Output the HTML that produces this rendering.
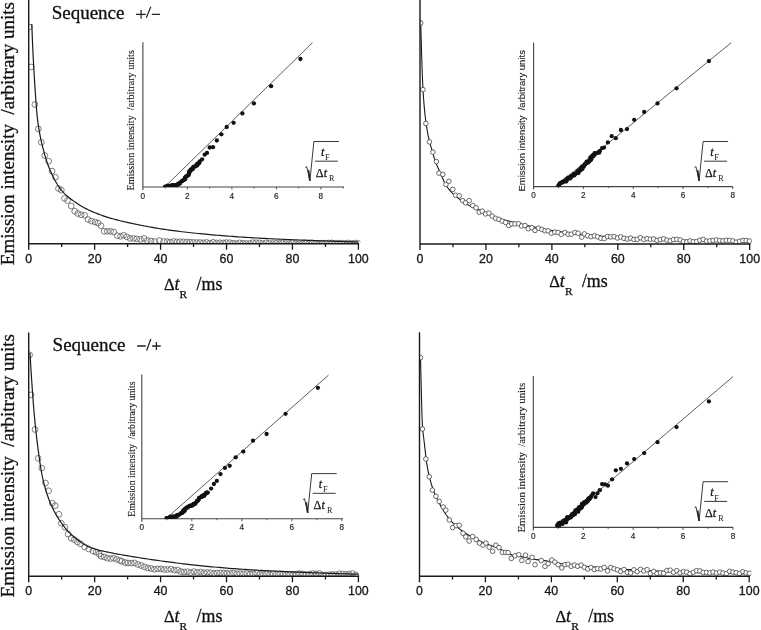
<!DOCTYPE html><html><head><meta charset="utf-8"><style>
html,body{margin:0;padding:0;background:#fff;width:761px;height:630px;overflow:hidden}
svg{display:block;filter:blur(0.35px)}
text{fill:#111;white-space:pre}
.yl,.sq,.xl,.tl{stroke:#111;stroke-width:0.3px}
.tl{font-family:"Liberation Sans",sans-serif;font-size:12.4px;fill:#1a1a1a}
.it{font-family:"Liberation Sans",sans-serif;font-size:8.2px;fill:#222;stroke:#222;stroke-width:0.15px}
.yl{font-family:"Liberation Serif",serif;font-size:18.8px}
.ilserif{font-family:"Liberation Serif",serif;font-size:9.6px;fill:#222;stroke:#222;stroke-width:0.12px}
.ilsans{font-family:"Liberation Sans",sans-serif;font-size:8.6px;fill:#222;stroke:#222;stroke-width:0.12px}
.sq{font-family:"Liberation Serif",serif;font-size:19.0px}
.xl{font-family:"Liberation Serif",serif;font-size:17.9px}
.xs{font-family:"Liberation Serif",serif;font-size:11.4px;stroke:#111;stroke-width:0.25px}
.fm{font-family:"Liberation Serif",serif;font-size:12.2px;stroke:#111;stroke-width:0.25px}
.fs{font-family:"Liberation Serif",serif;font-size:8.2px}
</style></head><body>
<svg width="761" height="630" viewBox="0 0 761 630">
<rect width="761" height="630" fill="#fff"/>
<clipPath id="ctl"><rect x="28.7" y="-1" width="331.7" height="244.8"/></clipPath>
<g clip-path="url(#ctl)" fill="none" stroke="#555" stroke-width="0.75">
<circle cx="29.3" cy="27" r="2.9"/>
<circle cx="31.2" cy="67" r="2.9"/>
<circle cx="34.9" cy="104.5" r="2.9"/>
<circle cx="38.3" cy="128.9" r="2.9"/>
<circle cx="41.3" cy="142.3" r="2.9"/>
<circle cx="44.8" cy="155.5" r="2.9"/>
<circle cx="48.6" cy="161.2" r="2.9"/>
<circle cx="52.1" cy="171.1" r="2.9"/>
<circle cx="55.4" cy="177.3" r="2.9"/>
<circle cx="58.5" cy="188.5" r="2.9"/>
<circle cx="61.3" cy="190.1" r="2.9"/>
<circle cx="64.5" cy="198.4" r="2.9"/>
<circle cx="67.5" cy="200.5" r="2.9"/>
<circle cx="71.2" cy="206" r="2.9"/>
<circle cx="74.7" cy="211.2" r="2.9"/>
<circle cx="77.8" cy="213.5" r="2.9"/>
<circle cx="81.1" cy="214.8" r="2.9"/>
<circle cx="84.6" cy="215.3" r="2.9"/>
<circle cx="88.1" cy="219.5" r="2.9"/>
<circle cx="91.4" cy="221" r="2.9"/>
<circle cx="95" cy="222" r="2.9"/>
<circle cx="98" cy="223.1" r="2.9"/>
<circle cx="101" cy="225.8" r="2.9"/>
<circle cx="104.2" cy="231.3" r="2.9"/>
<circle cx="107.3" cy="231.3" r="2.9"/>
<circle cx="110.5" cy="231.3" r="2.9"/>
<circle cx="113.7" cy="232" r="2.9"/>
<circle cx="117.3" cy="235.7" r="2.9"/>
<circle cx="120.5" cy="236.3" r="2.9"/>
<circle cx="123.6" cy="235.2" r="2.9"/>
<circle cx="126.8" cy="236.8" r="2.9"/>
<circle cx="130" cy="238.4" r="2.9"/>
<circle cx="133.6" cy="238.4" r="2.9"/>
<circle cx="136.8" cy="238.9" r="2.9"/>
<circle cx="140.5" cy="239.4" r="2.9"/>
<circle cx="144.1" cy="238.4" r="2.9"/>
<circle cx="147.3" cy="240.5" r="2.9"/>
<circle cx="151" cy="241" r="2.9"/>
<circle cx="154.7" cy="241.5" r="2.9"/>
<circle cx="159.4" cy="240.5" r="2.9"/>
<circle cx="163.6" cy="241.5" r="2.9"/>
<circle cx="167" cy="241.66" r="2.9"/>
<circle cx="170.3" cy="242.07" r="2.9"/>
<circle cx="173.6" cy="241.45" r="2.9"/>
<circle cx="176.9" cy="241.86" r="2.9"/>
<circle cx="180.2" cy="241.8" r="2.9"/>
<circle cx="183.5" cy="241.84" r="2.9"/>
<circle cx="186.8" cy="242.02" r="2.9"/>
<circle cx="190.1" cy="242.26" r="2.9"/>
<circle cx="193.4" cy="242.38" r="2.9"/>
<circle cx="196.7" cy="242.58" r="2.9"/>
<circle cx="200" cy="242.52" r="2.9"/>
<circle cx="203.3" cy="242.83" r="2.9"/>
<circle cx="206.6" cy="242.4" r="2.9"/>
<circle cx="209.9" cy="243.12" r="2.9"/>
<circle cx="213.2" cy="242.32" r="2.9"/>
<circle cx="216.5" cy="243" r="2.9"/>
<circle cx="219.8" cy="242.79" r="2.9"/>
<circle cx="223.1" cy="242.97" r="2.9"/>
<circle cx="226.4" cy="242.59" r="2.9"/>
<circle cx="229.7" cy="242.68" r="2.9"/>
<circle cx="233" cy="243.32" r="2.9"/>
<circle cx="236.3" cy="243.52" r="2.9"/>
<circle cx="239.6" cy="242.89" r="2.9"/>
<circle cx="242.9" cy="243.3" r="2.9"/>
<circle cx="246.2" cy="243.5" r="2.9"/>
<circle cx="249.5" cy="243.54" r="2.9"/>
<circle cx="252.8" cy="242.75" r="2.9"/>
<circle cx="256.1" cy="242.72" r="2.9"/>
<circle cx="259.4" cy="242.87" r="2.9"/>
<circle cx="262.7" cy="243.59" r="2.9"/>
<circle cx="266" cy="242.82" r="2.9"/>
<circle cx="269.3" cy="243.15" r="2.9"/>
<circle cx="272.6" cy="243.7" r="2.9"/>
<circle cx="275.9" cy="243.29" r="2.9"/>
<circle cx="279.2" cy="243.46" r="2.9"/>
<circle cx="282.5" cy="243.09" r="2.9"/>
<circle cx="285.8" cy="243.47" r="2.9"/>
<circle cx="289.1" cy="243.63" r="2.9"/>
<circle cx="292.4" cy="242.82" r="2.9"/>
<circle cx="295.7" cy="243.56" r="2.9"/>
<circle cx="299" cy="243.81" r="2.9"/>
<circle cx="302.3" cy="243.57" r="2.9"/>
<circle cx="305.6" cy="243.11" r="2.9"/>
<circle cx="308.9" cy="243.63" r="2.9"/>
<circle cx="312.2" cy="242.95" r="2.9"/>
<circle cx="315.5" cy="243.3" r="2.9"/>
<circle cx="318.8" cy="243.77" r="2.9"/>
<circle cx="322.1" cy="243.16" r="2.9"/>
<circle cx="325.4" cy="243.16" r="2.9"/>
<circle cx="328.7" cy="243.01" r="2.9"/>
<circle cx="332" cy="242.9" r="2.9"/>
<circle cx="335.3" cy="243.56" r="2.9"/>
<circle cx="338.6" cy="243.1" r="2.9"/>
<circle cx="341.9" cy="243.16" r="2.9"/>
<circle cx="345.2" cy="243.39" r="2.9"/>
<circle cx="348.5" cy="242.95" r="2.9"/>
<circle cx="351.8" cy="243.47" r="2.9"/>
<circle cx="355.1" cy="243.05" r="2.9"/>
<circle cx="358.4" cy="243.49" r="2.9"/>
</g>
<path d="M31.8,24 L31.81,24.23 L31.83,24.92 L31.87,26.05 L31.93,27.64 L32.01,29.65 L32.1,32.08 L32.2,34.89 L32.33,38.04 L32.47,41.48 L32.62,45.13 L32.8,48.93 L32.99,52.92 L33.19,57.09 L33.42,61.4 L33.66,65.8 L33.91,70.27 L34.18,74.75 L34.47,79.34 L34.78,84.17 L35.1,89.19 L35.44,94.33 L35.79,99.51 L36.16,104.62 L36.55,109.54 L36.96,114.12 L37.38,118.18 L37.81,121.6 L38.27,124.82 L38.74,127.91 L39.22,130.87 L39.73,133.71 L40.25,136.42 L40.78,139.02 L41.34,141.52 L41.91,143.93 L42.49,146.28 L43.09,148.6 L43.71,150.93 L44.35,153.29 L45,155.61 L45.67,157.89 L46.35,160.1 L47.05,162.25 L47.77,164.33 L48.51,166.33 L49.26,168.24 L50.02,170.05 L50.81,171.82 L51.61,173.57 L52.42,175.3 L53.26,177 L54.11,178.68 L54.97,180.33 L55.86,181.93 L56.76,183.49 L57.67,184.99 L58.6,186.43 L59.55,187.81 L60.52,189.11 L61.5,190.32 L62.5,191.46 L63.51,192.56 L64.54,193.62 L65.59,194.63 L66.66,195.61 L67.74,196.55 L68.83,197.46 L69.95,198.34 L71.08,199.2 L72.22,200.04 L73.39,200.88 L74.57,201.7 L75.76,202.52 L76.98,203.34 L78.21,204.14 L79.45,204.92 L80.71,205.69 L81.99,206.45 L83.29,207.19 L84.6,207.91 L85.93,208.62 L87.27,209.3 L88.63,209.96 L90.01,210.6 L91.4,211.23 L92.82,211.84 L94.24,212.44 L95.69,213.03 L97.15,213.61 L98.62,214.18 L100.12,214.73 L101.63,215.28 L103.15,215.81 L104.7,216.33 L106.25,216.84 L107.83,217.34 L109.42,217.83 L111.03,218.3 L112.66,218.77 L114.3,219.23 L115.96,219.68 L117.63,220.12 L119.32,220.54 L121.03,220.97 L122.75,221.38 L124.49,221.78 L126.25,222.18 L128.03,222.57 L129.82,222.96 L131.62,223.34 L133.45,223.73 L135.29,224.11 L137.14,224.49 L139.01,224.87 L140.9,225.25 L142.81,225.62 L144.73,226 L146.67,226.36 L148.63,226.73 L150.6,227.09 L152.59,227.45 L154.59,227.8 L156.61,228.15 L158.65,228.49 L160.7,228.82 L162.77,229.15 L164.86,229.46 L166.96,229.77 L169.08,230.07 L171.22,230.37 L173.37,230.65 L175.54,230.93 L177.73,231.21 L179.93,231.48 L182.15,231.75 L184.39,232.01 L186.64,232.27 L188.91,232.52 L191.19,232.77 L193.5,233.02 L195.81,233.26 L198.15,233.49 L200.5,233.72 L202.87,233.95 L205.25,234.17 L207.65,234.39 L210.07,234.61 L212.5,234.82 L214.95,235.03 L217.42,235.24 L219.9,235.44 L222.4,235.64 L224.92,235.84 L227.45,236.04 L230,236.24 L232.57,236.43 L235.15,236.62 L237.75,236.8 L240.36,236.99 L242.99,237.16 L245.64,237.34 L248.31,237.51 L250.99,237.68 L253.69,237.84 L256.4,238 L259.13,238.15 L261.88,238.3 L264.64,238.45 L267.42,238.59 L270.22,238.73 L273.03,238.86 L275.86,239 L278.71,239.13 L281.57,239.26 L284.45,239.38 L287.35,239.51 L290.26,239.63 L293.19,239.75 L296.13,239.87 L299.09,239.98 L302.07,240.1 L305.07,240.21 L308.08,240.33 L311.1,240.44 L314.15,240.55 L317.21,240.67 L320.29,240.78 L323.38,240.89 L326.49,241 L329.62,241.11 L332.76,241.21 L335.92,241.32 L339.1,241.42 L342.29,241.52 L345.5,241.62 L348.72,241.72 L351.97,241.81 L355.22,241.91 L358.5,242" fill="none" stroke="#1a1a1a" stroke-width="1.2" clip-path="url(#ctl)"/>
<path d="M28.7,-1 V249.8 M28,243.8 H359.1" stroke="#1a1a1a" stroke-width="1.4" fill="none"/>
<path d="M61.67,243.8 v3.2 M94.64,243.8 v6 M127.61,243.8 v3.2 M160.58,243.8 v6 M193.55,243.8 v3.2 M226.52,243.8 v6 M259.49,243.8 v3.2 M292.46,243.8 v6 M325.43,243.8 v3.2 M358.4,243.8 v6" stroke="#1a1a1a" stroke-width="1.3" fill="none"/>
<text x="28.7" y="262.9" class="tl" text-anchor="middle">0</text>
<text x="94.64" y="262.9" class="tl" text-anchor="middle">20</text>
<text x="160.58" y="262.9" class="tl" text-anchor="middle">40</text>
<text x="226.52" y="262.9" class="tl" text-anchor="middle">60</text>
<text x="292.46" y="262.9" class="tl" text-anchor="middle">80</text>
<text x="358.4" y="262.9" class="tl" text-anchor="middle">100</text>
<clipPath id="cbl"><rect x="28.7" y="332.4" width="331.7" height="243.8"/></clipPath>
<g clip-path="url(#cbl)" fill="none" stroke="#555" stroke-width="0.75">
<circle cx="29.6" cy="354.9" r="2.9"/>
<circle cx="31.1" cy="394.9" r="2.9"/>
<circle cx="35" cy="429.5" r="2.9"/>
<circle cx="38.2" cy="458.4" r="2.9"/>
<circle cx="41.8" cy="468.1" r="2.9"/>
<circle cx="45.5" cy="483" r="2.9"/>
<circle cx="48.6" cy="490.8" r="2.9"/>
<circle cx="52.3" cy="503.2" r="2.9"/>
<circle cx="55.2" cy="505.7" r="2.9"/>
<circle cx="58.9" cy="514.3" r="2.9"/>
<circle cx="61.3" cy="523.2" r="2.9"/>
<circle cx="65" cy="527.3" r="2.9"/>
<circle cx="68.1" cy="534.1" r="2.9"/>
<circle cx="71.2" cy="538.2" r="2.9"/>
<circle cx="74.3" cy="539.7" r="2.9"/>
<circle cx="77.4" cy="542" r="2.9"/>
<circle cx="80.5" cy="543.8" r="2.9"/>
<circle cx="84.6" cy="546.9" r="2.9"/>
<circle cx="88.8" cy="549" r="2.9"/>
<circle cx="92.9" cy="551" r="2.9"/>
<circle cx="96" cy="552.1" r="2.9"/>
<circle cx="99" cy="554" r="2.9"/>
<circle cx="101.1" cy="556.2" r="2.9"/>
<circle cx="104.2" cy="557" r="2.9"/>
<circle cx="107.3" cy="558.2" r="2.9"/>
<circle cx="110.5" cy="558.6" r="2.9"/>
<circle cx="113.5" cy="558.2" r="2.9"/>
<circle cx="116.6" cy="559.3" r="2.9"/>
<circle cx="119.8" cy="560.5" r="2.9"/>
<circle cx="121.8" cy="561.3" r="2.9"/>
<circle cx="125" cy="562.5" r="2.9"/>
<circle cx="128" cy="563" r="2.9"/>
<circle cx="131.3" cy="563.16" r="2.9"/>
<circle cx="134.6" cy="562.95" r="2.9"/>
<circle cx="137.9" cy="564.47" r="2.9"/>
<circle cx="141.2" cy="565.51" r="2.9"/>
<circle cx="144.5" cy="566.91" r="2.9"/>
<circle cx="147.8" cy="568.02" r="2.9"/>
<circle cx="151.1" cy="568.5" r="2.9"/>
<circle cx="154.4" cy="569.3" r="2.9"/>
<circle cx="157.7" cy="568.86" r="2.9"/>
<circle cx="161" cy="568.86" r="2.9"/>
<circle cx="164.3" cy="569.5" r="2.9"/>
<circle cx="167.6" cy="569.46" r="2.9"/>
<circle cx="170.9" cy="569.09" r="2.9"/>
<circle cx="174.2" cy="570.12" r="2.9"/>
<circle cx="177.5" cy="570.07" r="2.9"/>
<circle cx="180.8" cy="571.49" r="2.9"/>
<circle cx="184.1" cy="571.96" r="2.9"/>
<circle cx="187.4" cy="571.7" r="2.9"/>
<circle cx="190.7" cy="572.55" r="2.9"/>
<circle cx="194" cy="571.59" r="2.9"/>
<circle cx="197.3" cy="572.51" r="2.9"/>
<circle cx="200.6" cy="572.02" r="2.9"/>
<circle cx="203.9" cy="572.81" r="2.9"/>
<circle cx="207.2" cy="572.48" r="2.9"/>
<circle cx="210.5" cy="572.69" r="2.9"/>
<circle cx="213.8" cy="573.54" r="2.9"/>
<circle cx="217.1" cy="572.99" r="2.9"/>
<circle cx="220.4" cy="572.84" r="2.9"/>
<circle cx="223.7" cy="573.05" r="2.9"/>
<circle cx="227" cy="573.28" r="2.9"/>
<circle cx="230.3" cy="573.48" r="2.9"/>
<circle cx="233.6" cy="573.08" r="2.9"/>
<circle cx="236.9" cy="573.8" r="2.9"/>
<circle cx="240.2" cy="573.57" r="2.9"/>
<circle cx="243.5" cy="573.64" r="2.9"/>
<circle cx="246.8" cy="573.48" r="2.9"/>
<circle cx="250.1" cy="574.17" r="2.9"/>
<circle cx="253.4" cy="573.87" r="2.9"/>
<circle cx="256.7" cy="573.24" r="2.9"/>
<circle cx="260" cy="574.14" r="2.9"/>
<circle cx="263.3" cy="574.6" r="2.9"/>
<circle cx="266.6" cy="573.9" r="2.9"/>
<circle cx="269.9" cy="574.57" r="2.9"/>
<circle cx="273.2" cy="573.73" r="2.9"/>
<circle cx="276.5" cy="574.13" r="2.9"/>
<circle cx="279.8" cy="573.94" r="2.9"/>
<circle cx="283.1" cy="573.99" r="2.9"/>
<circle cx="286.4" cy="574.56" r="2.9"/>
<circle cx="289.7" cy="574.2" r="2.9"/>
<circle cx="293" cy="574.89" r="2.9"/>
<circle cx="296.3" cy="574.26" r="2.9"/>
<circle cx="299.6" cy="573.53" r="2.9"/>
<circle cx="302.9" cy="573.99" r="2.9"/>
<circle cx="306.2" cy="574.78" r="2.9"/>
<circle cx="309.5" cy="574.08" r="2.9"/>
<circle cx="312.8" cy="573.48" r="2.9"/>
<circle cx="316.1" cy="573.84" r="2.9"/>
<circle cx="319.4" cy="573.56" r="2.9"/>
<circle cx="322.7" cy="575.05" r="2.9"/>
<circle cx="326" cy="575.02" r="2.9"/>
<circle cx="329.3" cy="574.75" r="2.9"/>
<circle cx="332.6" cy="574.44" r="2.9"/>
<circle cx="335.9" cy="574.71" r="2.9"/>
<circle cx="339.2" cy="573.76" r="2.9"/>
<circle cx="342.5" cy="573.96" r="2.9"/>
<circle cx="345.8" cy="574.33" r="2.9"/>
<circle cx="349.1" cy="574.07" r="2.9"/>
<circle cx="352.4" cy="573.57" r="2.9"/>
<circle cx="355.7" cy="575.07" r="2.9"/>
</g>
<path d="M30,353 L30.01,353.14 L30.03,353.58 L30.07,354.29 L30.13,355.3 L30.21,356.58 L30.3,358.14 L30.41,359.96 L30.53,362.05 L30.67,364.4 L30.83,366.98 L31,369.8 L31.19,372.84 L31.4,376.07 L31.63,379.49 L31.87,383.06 L32.12,386.78 L32.4,390.68 L32.69,394.75 L32.99,398.96 L33.32,403.24 L33.66,407.55 L34.01,411.81 L34.39,415.95 L34.78,420.04 L35.18,424.14 L35.61,428.23 L36.05,432.3 L36.5,436.35 L36.98,440.36 L37.47,444.34 L37.97,448.28 L38.49,452.19 L39.03,456.16 L39.59,460.13 L40.16,464.06 L40.75,467.86 L41.36,471.47 L41.98,474.8 L42.62,477.76 L43.27,480.57 L43.94,483.29 L44.63,485.93 L45.34,488.48 L46.06,490.95 L46.8,493.32 L47.55,495.6 L48.32,497.8 L49.11,499.92 L49.92,501.96 L50.74,503.92 L51.58,505.83 L52.43,507.68 L53.3,509.47 L54.19,511.21 L55.09,512.9 L56.01,514.54 L56.95,516.13 L57.91,517.68 L58.88,519.2 L59.86,520.69 L60.87,522.15 L61.89,523.6 L62.92,525.04 L63.98,526.45 L65.05,527.83 L66.13,529.18 L67.24,530.48 L68.36,531.72 L69.49,532.9 L70.65,534.01 L71.82,535.03 L73,536.05 L74.21,537.05 L75.42,538.05 L76.66,539.02 L77.91,539.98 L79.18,540.92 L80.47,541.84 L81.77,542.73 L83.09,543.58 L84.43,544.4 L85.78,545.18 L87.15,545.91 L88.53,546.6 L89.93,547.23 L91.35,547.8 L92.79,548.31 L94.24,548.79 L95.71,549.25 L97.19,549.68 L98.69,550.08 L100.21,550.47 L101.75,550.84 L103.3,551.19 L104.86,551.53 L106.45,551.87 L108.05,552.2 L109.67,552.52 L111.3,552.86 L112.95,553.19 L114.62,553.52 L116.3,553.85 L118,554.16 L119.72,554.47 L121.46,554.77 L123.21,555.07 L124.97,555.37 L126.76,555.66 L128.56,555.96 L130.37,556.26 L132.21,556.56 L134.06,556.87 L135.92,557.17 L137.81,557.47 L139.7,557.77 L141.62,558.08 L143.55,558.38 L145.5,558.68 L147.47,558.98 L149.45,559.28 L151.45,559.57 L153.47,559.87 L155.5,560.16 L157.55,560.44 L159.61,560.73 L161.7,561.01 L163.79,561.29 L165.91,561.58 L168.04,561.86 L170.19,562.14 L172.35,562.42 L174.54,562.7 L176.73,562.98 L178.95,563.25 L181.18,563.52 L183.43,563.79 L185.69,564.06 L187.97,564.32 L190.27,564.59 L192.59,564.84 L194.92,565.09 L197.27,565.34 L199.63,565.58 L202.01,565.83 L204.41,566.07 L206.82,566.3 L209.25,566.54 L211.7,566.78 L214.16,567.01 L216.64,567.24 L219.14,567.46 L221.65,567.69 L224.18,567.9 L226.73,568.12 L229.29,568.33 L231.87,568.53 L234.47,568.72 L237.08,568.91 L239.71,569.09 L242.36,569.27 L245.02,569.44 L247.7,569.61 L250.4,569.78 L253.11,569.94 L255.84,570.1 L258.58,570.26 L261.35,570.41 L264.12,570.56 L266.92,570.71 L269.73,570.85 L272.56,571 L275.41,571.14 L278.27,571.27 L281.15,571.41 L284.04,571.54 L286.95,571.67 L289.88,571.79 L292.83,571.92 L295.79,572.05 L298.77,572.17 L301.76,572.29 L304.77,572.42 L307.8,572.54 L310.84,572.66 L313.9,572.78 L316.98,572.89 L320.08,573.01 L323.19,573.12 L326.31,573.23 L329.46,573.34 L332.62,573.45 L335.8,573.55 L338.99,573.66 L342.2,573.75 L345.43,573.85 L348.67,573.94 L351.93,574.03 L355.21,574.12 L358.5,574.2" fill="none" stroke="#1a1a1a" stroke-width="1.2" clip-path="url(#cbl)"/>
<path d="M28.7,332.4 V582.2 M28,576.2 H359.1" stroke="#1a1a1a" stroke-width="1.4" fill="none"/>
<path d="M61.67,576.2 v3.2 M94.64,576.2 v6 M127.61,576.2 v3.2 M160.58,576.2 v6 M193.55,576.2 v3.2 M226.52,576.2 v6 M259.49,576.2 v3.2 M292.46,576.2 v6 M325.43,576.2 v3.2 M358.4,576.2 v6" stroke="#1a1a1a" stroke-width="1.3" fill="none"/>
<text x="28.7" y="595.3" class="tl" text-anchor="middle">0</text>
<text x="94.64" y="595.3" class="tl" text-anchor="middle">20</text>
<text x="160.58" y="595.3" class="tl" text-anchor="middle">40</text>
<text x="226.52" y="595.3" class="tl" text-anchor="middle">60</text>
<text x="292.46" y="595.3" class="tl" text-anchor="middle">80</text>
<text x="358.4" y="595.3" class="tl" text-anchor="middle">100</text>
<clipPath id="ctr"><rect x="420" y="-1" width="331.7" height="245"/></clipPath>
<path d="M420.7,20 L420.71,20.34 L420.73,21.37 L420.77,23.08 L420.83,25.45 L420.91,28.46 L421,32.08 L421.11,36.24 L421.23,40.86 L421.37,45.82 L421.53,50.95 L421.7,56.43 L421.9,62.31 L422.1,68.48 L422.33,74.74 L422.57,80.84 L422.83,86.45 L423.1,91.21 L423.39,95.66 L423.7,99.98 L424.02,104.13 L424.36,108.1 L424.72,111.86 L425.09,115.42 L425.48,118.76 L425.89,121.92 L426.31,124.92 L426.75,127.78 L427.21,130.49 L427.68,133.06 L428.17,135.52 L428.68,137.87 L429.2,140.16 L429.74,142.38 L430.3,144.45 L430.87,146.4 L431.46,148.3 L432.07,150.22 L432.69,152.27 L433.33,154.56 L433.98,157.04 L434.66,159.44 L435.35,161.47 L436.05,163.31 L436.77,165.03 L437.51,166.67 L438.27,168.28 L439.04,169.91 L439.83,171.62 L440.64,173.47 L441.46,175.45 L442.3,177.51 L443.15,179.57 L444.02,181.57 L444.91,183.43 L445.82,185.06 L446.74,186.43 L447.68,187.73 L448.63,188.96 L449.6,190.13 L450.59,191.24 L451.59,192.31 L452.62,193.33 L453.65,194.31 L454.71,195.27 L455.78,196.2 L456.87,197.12 L457.97,198.04 L459.09,198.93 L460.23,199.8 L461.38,200.65 L462.55,201.47 L463.74,202.27 L464.95,203.04 L466.17,203.78 L467.4,204.5 L468.66,205.19 L469.93,205.85 L471.21,206.48 L472.52,207.09 L473.84,207.67 L475.17,208.24 L476.53,208.81 L477.9,209.38 L479.28,209.96 L480.69,210.56 L482.11,211.18 L483.54,211.84 L485,212.51 L486.47,213.21 L487.95,213.91 L489.46,214.62 L490.98,215.31 L492.51,215.99 L494.06,216.64 L495.63,217.25 L497.22,217.81 L498.82,218.32 L500.44,218.81 L502.08,219.28 L503.73,219.74 L505.4,220.17 L507.08,220.6 L508.78,221.02 L510.5,221.43 L512.24,221.84 L513.99,222.26 L515.76,222.68 L517.54,223.11 L519.35,223.55 L521.16,223.99 L523,224.44 L524.85,224.88 L526.72,225.33 L528.6,225.78 L530.5,226.22 L532.42,226.67 L534.36,227.1 L536.31,227.54 L538.28,227.96 L540.26,228.38 L542.26,228.78 L544.28,229.17 L546.31,229.55 L548.36,229.91 L550.43,230.26 L552.52,230.58 L554.62,230.89 L556.73,231.2 L558.87,231.5 L561.02,231.8 L563.18,232.1 L565.37,232.39 L567.57,232.67 L569.79,232.95 L572.02,233.22 L574.27,233.49 L576.54,233.75 L578.82,234 L581.12,234.25 L583.44,234.49 L585.77,234.73 L588.12,234.96 L590.48,235.18 L592.87,235.4 L595.27,235.61 L597.68,235.81 L600.12,236.01 L602.56,236.2 L605.03,236.39 L607.51,236.57 L610.01,236.75 L612.53,236.92 L615.06,237.09 L617.61,237.26 L620.18,237.42 L622.76,237.58 L625.36,237.73 L627.97,237.88 L630.6,238.03 L633.25,238.18 L635.92,238.32 L638.6,238.46 L641.3,238.59 L644.01,238.72 L646.74,238.85 L649.49,238.98 L652.26,239.1 L655.04,239.22 L657.84,239.34 L660.65,239.46 L663.48,239.58 L666.33,239.69 L669.2,239.8 L672.08,239.91 L674.97,240.02 L677.89,240.12 L680.82,240.22 L683.77,240.32 L686.73,240.42 L689.71,240.51 L692.71,240.6 L695.72,240.69 L698.75,240.77 L701.8,240.85 L704.86,240.92 L707.94,241 L711.04,241.08 L714.15,241.15 L717.29,241.22 L720.43,241.29 L723.6,241.36 L726.78,241.43 L729.97,241.49 L733.18,241.55 L736.41,241.61 L739.66,241.66 L742.92,241.71 L746.2,241.76 L749.5,241.8" fill="none" stroke="#1a1a1a" stroke-width="1.1" clip-path="url(#ctr)"/>
<g clip-path="url(#ctr)" fill="#fff" stroke="#444" stroke-width="0.8">
<circle cx="420.7" cy="23" r="2.3"/>
<circle cx="423" cy="89.6" r="2.3"/>
<circle cx="425.9" cy="123.5" r="2.3"/>
<circle cx="429.4" cy="141.9" r="2.3"/>
<circle cx="432.9" cy="152.1" r="2.3"/>
<circle cx="436.4" cy="161.6" r="2.3"/>
<circle cx="439" cy="173.1" r="2.3"/>
<circle cx="442.8" cy="174.4" r="2.3"/>
<circle cx="445.9" cy="184.4" r="2.3"/>
<circle cx="448.9" cy="181.3" r="2.3"/>
<circle cx="452.8" cy="189.4" r="2.3"/>
<circle cx="455.6" cy="195.3" r="2.3"/>
<circle cx="459.2" cy="195.8" r="2.3"/>
<circle cx="462.6" cy="200.6" r="2.3"/>
<circle cx="465.6" cy="202.8" r="2.3"/>
<circle cx="469.2" cy="200.6" r="2.3"/>
<circle cx="472.8" cy="205.6" r="2.3"/>
<circle cx="476.1" cy="207.8" r="2.3"/>
<circle cx="479.2" cy="212.2" r="2.3"/>
<circle cx="482.2" cy="211.1" r="2.3"/>
<circle cx="485.6" cy="213.9" r="2.3"/>
<circle cx="488.9" cy="213.1" r="2.3"/>
<circle cx="492.2" cy="216.1" r="2.3"/>
<circle cx="495.6" cy="218.3" r="2.3"/>
<circle cx="498.9" cy="219.4" r="2.3"/>
<circle cx="502.2" cy="221.1" r="2.3"/>
<circle cx="505.6" cy="222.5" r="2.3"/>
<circle cx="508.7" cy="225.5" r="2.3"/>
<circle cx="511.8" cy="223.9" r="2.3"/>
<circle cx="515" cy="223.9" r="2.3"/>
<circle cx="518.5" cy="223.7" r="2.3"/>
<circle cx="521.6" cy="226" r="2.3"/>
<circle cx="525" cy="225.5" r="2.3"/>
<circle cx="528.3" cy="228.7" r="2.3"/>
<circle cx="531.8" cy="227.6" r="2.3"/>
<circle cx="535" cy="230.4" r="2.3"/>
<circle cx="538.4" cy="228.1" r="2.3"/>
<circle cx="541.8" cy="229.4" r="2.3"/>
<circle cx="545" cy="230.8" r="2.3"/>
<circle cx="548.1" cy="230.8" r="2.3"/>
<circle cx="551.3" cy="233.2" r="2.3"/>
<circle cx="554.9" cy="232.1" r="2.3"/>
<circle cx="558.1" cy="232.5" r="2.3"/>
<circle cx="561.3" cy="234.4" r="2.3"/>
<circle cx="564.9" cy="232.5" r="2.3"/>
<circle cx="568.1" cy="234.2" r="2.3"/>
<circle cx="571.2" cy="234.2" r="2.3"/>
<circle cx="574.9" cy="232.5" r="2.3"/>
<circle cx="578.1" cy="233.2" r="2.3"/>
<circle cx="581.8" cy="237.1" r="2.3"/>
<circle cx="584.4" cy="233.9" r="2.3"/>
<circle cx="587.7" cy="235.71" r="2.3"/>
<circle cx="591" cy="236.65" r="2.3"/>
<circle cx="594.3" cy="235.83" r="2.3"/>
<circle cx="597.6" cy="236.85" r="2.3"/>
<circle cx="600.9" cy="238.29" r="2.3"/>
<circle cx="604.2" cy="238.55" r="2.3"/>
<circle cx="607.5" cy="236.46" r="2.3"/>
<circle cx="610.8" cy="236.91" r="2.3"/>
<circle cx="614.1" cy="236.63" r="2.3"/>
<circle cx="617.4" cy="237.97" r="2.3"/>
<circle cx="620.7" cy="236.9" r="2.3"/>
<circle cx="624" cy="238.33" r="2.3"/>
<circle cx="627.3" cy="239.06" r="2.3"/>
<circle cx="630.6" cy="238.1" r="2.3"/>
<circle cx="633.9" cy="239.43" r="2.3"/>
<circle cx="637.2" cy="239.31" r="2.3"/>
<circle cx="640.5" cy="237.74" r="2.3"/>
<circle cx="643.8" cy="239.47" r="2.3"/>
<circle cx="647.1" cy="238.69" r="2.3"/>
<circle cx="650.4" cy="239.26" r="2.3"/>
<circle cx="653.7" cy="238.97" r="2.3"/>
<circle cx="657" cy="240.3" r="2.3"/>
<circle cx="660.3" cy="239.63" r="2.3"/>
<circle cx="663.6" cy="238.86" r="2.3"/>
<circle cx="666.9" cy="240.11" r="2.3"/>
<circle cx="670.2" cy="240.89" r="2.3"/>
<circle cx="673.5" cy="239.54" r="2.3"/>
<circle cx="676.8" cy="239.36" r="2.3"/>
<circle cx="680.1" cy="239.92" r="2.3"/>
<circle cx="683.4" cy="241.63" r="2.3"/>
<circle cx="686.7" cy="241.81" r="2.3"/>
<circle cx="690" cy="240.96" r="2.3"/>
<circle cx="693.3" cy="241.7" r="2.3"/>
<circle cx="696.6" cy="241.58" r="2.3"/>
<circle cx="699.9" cy="240.23" r="2.3"/>
<circle cx="703.2" cy="239.42" r="2.3"/>
<circle cx="706.5" cy="241.16" r="2.3"/>
<circle cx="709.8" cy="240.92" r="2.3"/>
<circle cx="713.1" cy="240.38" r="2.3"/>
<circle cx="716.4" cy="240.01" r="2.3"/>
<circle cx="719.7" cy="240.6" r="2.3"/>
<circle cx="723" cy="240.83" r="2.3"/>
<circle cx="726.3" cy="240.27" r="2.3"/>
<circle cx="729.6" cy="240.38" r="2.3"/>
<circle cx="732.9" cy="240.91" r="2.3"/>
<circle cx="736.2" cy="242.16" r="2.3"/>
<circle cx="739.5" cy="241.37" r="2.3"/>
<circle cx="742.8" cy="240.49" r="2.3"/>
<circle cx="746.1" cy="240.5" r="2.3"/>
<circle cx="749.4" cy="241.06" r="2.3"/>
</g>
<path d="M420,-1 V250 M419.3,244 H750.4" stroke="#1a1a1a" stroke-width="1.4" fill="none"/>
<path d="M452.97,244 v3.2 M485.94,244 v6 M518.91,244 v3.2 M551.88,244 v6 M584.85,244 v3.2 M617.82,244 v6 M650.79,244 v3.2 M683.76,244 v6 M716.73,244 v3.2 M749.7,244 v6" stroke="#1a1a1a" stroke-width="1.3" fill="none"/>
<text x="420" y="263.1" class="tl" text-anchor="middle">0</text>
<text x="485.94" y="263.1" class="tl" text-anchor="middle">20</text>
<text x="551.88" y="263.1" class="tl" text-anchor="middle">40</text>
<text x="617.82" y="263.1" class="tl" text-anchor="middle">60</text>
<text x="683.76" y="263.1" class="tl" text-anchor="middle">80</text>
<text x="749.7" y="263.1" class="tl" text-anchor="middle">100</text>
<clipPath id="cbr"><rect x="419.5" y="332.3" width="331.7" height="243.9"/></clipPath>
<path d="M420.5,357 L420.51,357.38 L420.53,358.5 L420.57,360.36 L420.63,362.94 L420.71,366.22 L420.8,370.16 L420.91,374.7 L421.03,379.77 L421.17,385.28 L421.33,391.12 L421.51,397.64 L421.7,404.83 L421.9,412.23 L422.13,419.13 L422.37,424.51 L422.63,428.16 L422.9,431.31 L423.19,434.05 L423.5,436.53 L423.82,438.97 L424.16,441.69 L424.52,444.83 L424.89,448.16 L425.29,451.63 L425.69,455.16 L426.12,458.66 L426.56,462.02 L427.01,465.11 L427.49,467.82 L427.98,470.37 L428.48,472.83 L429.01,475.21 L429.55,477.5 L430.1,479.69 L430.68,481.8 L431.27,483.83 L431.87,485.79 L432.5,487.69 L433.14,489.52 L433.79,491.3 L434.47,493.01 L435.16,494.67 L435.86,496.28 L436.58,497.85 L437.32,499.38 L438.08,500.89 L438.85,502.39 L439.64,503.88 L440.45,505.37 L441.27,506.85 L442.11,508.32 L442.96,509.76 L443.84,511.19 L444.73,512.59 L445.63,513.96 L446.55,515.3 L447.49,516.59 L448.45,517.83 L449.42,519.03 L450.41,520.21 L451.41,521.35 L452.44,522.47 L453.47,523.56 L454.53,524.62 L455.6,525.64 L456.69,526.63 L457.79,527.58 L458.92,528.48 L460.05,529.35 L461.21,530.2 L462.38,531.03 L463.57,531.85 L464.77,532.65 L465.99,533.44 L467.23,534.21 L468.49,534.97 L469.76,535.71 L471.05,536.44 L472.35,537.16 L473.67,537.87 L475.01,538.57 L476.36,539.26 L477.73,539.95 L479.12,540.62 L480.52,541.3 L481.95,541.94 L483.38,542.57 L484.84,543.17 L486.31,543.75 L487.79,544.32 L489.3,544.89 L490.82,545.45 L492.35,546.02 L493.91,546.61 L495.48,547.21 L497.07,547.84 L498.67,548.5 L500.29,549.21 L501.93,550 L503.58,550.9 L505.25,551.85 L506.94,552.8 L508.64,553.67 L510.36,554.39 L512.09,554.92 L513.85,555.33 L515.62,555.69 L517.4,556.01 L519.21,556.32 L521.03,556.65 L522.86,557.01 L524.71,557.4 L526.58,557.79 L528.47,558.19 L530.37,558.57 L532.29,558.95 L534.23,559.29 L536.18,559.6 L538.15,559.88 L540.13,560.12 L542.14,560.36 L544.15,560.61 L546.19,560.88 L548.24,561.2 L550.31,561.57 L552.4,561.97 L554.5,562.39 L556.62,562.81 L558.75,563.21 L560.9,563.57 L563.07,563.87 L565.26,564.15 L567.46,564.41 L569.68,564.65 L571.91,564.89 L574.16,565.12 L576.43,565.34 L578.72,565.57 L581.02,565.8 L583.33,566.03 L585.67,566.26 L588.02,566.49 L590.39,566.71 L592.77,566.93 L595.17,567.15 L597.59,567.37 L600.02,567.58 L602.48,567.79 L604.94,567.98 L607.43,568.18 L609.93,568.36 L612.45,568.53 L614.98,568.7 L617.53,568.86 L620.1,569.03 L622.68,569.19 L625.28,569.35 L627.9,569.51 L630.53,569.67 L633.18,569.82 L635.85,569.98 L638.53,570.13 L641.23,570.27 L643.95,570.42 L646.68,570.56 L649.43,570.7 L652.2,570.84 L654.98,570.97 L657.78,571.1 L660.6,571.23 L663.43,571.36 L666.28,571.48 L669.15,571.59 L672.03,571.71 L674.93,571.82 L677.84,571.92 L680.78,572.03 L683.73,572.13 L686.69,572.23 L689.68,572.33 L692.67,572.43 L695.69,572.52 L698.72,572.62 L701.77,572.71 L704.84,572.81 L707.92,572.9 L711.02,572.98 L714.13,573.07 L717.27,573.15 L720.41,573.23 L723.58,573.31 L726.76,573.39 L729.96,573.46 L733.18,573.53 L736.41,573.59 L739.66,573.65 L742.92,573.7 L746.2,573.75 L749.5,573.8" fill="none" stroke="#1a1a1a" stroke-width="1.1" clip-path="url(#cbr)"/>
<g clip-path="url(#cbr)" fill="#fff" stroke="#444" stroke-width="0.8">
<circle cx="420.5" cy="357.6" r="2.3"/>
<circle cx="422.4" cy="429" r="2.3"/>
<circle cx="425.8" cy="459" r="2.3"/>
<circle cx="429.3" cy="476.7" r="2.3"/>
<circle cx="432.4" cy="490.1" r="2.3"/>
<circle cx="435.9" cy="496.3" r="2.3"/>
<circle cx="439.2" cy="501.4" r="2.3"/>
<circle cx="443.2" cy="507" r="2.3"/>
<circle cx="445.8" cy="510.1" r="2.3"/>
<circle cx="449.3" cy="520" r="2.3"/>
<circle cx="452.6" cy="527.6" r="2.3"/>
<circle cx="456.1" cy="525.6" r="2.3"/>
<circle cx="459.2" cy="525.2" r="2.3"/>
<circle cx="463" cy="533.2" r="2.3"/>
<circle cx="465.8" cy="536.9" r="2.3"/>
<circle cx="469.1" cy="541" r="2.3"/>
<circle cx="472.6" cy="536.5" r="2.3"/>
<circle cx="476.1" cy="539.4" r="2.3"/>
<circle cx="479.4" cy="543.1" r="2.3"/>
<circle cx="483" cy="545.2" r="2.3"/>
<circle cx="486" cy="543.1" r="2.3"/>
<circle cx="489.1" cy="547.2" r="2.3"/>
<circle cx="492.6" cy="551.3" r="2.3"/>
<circle cx="495.9" cy="545.2" r="2.3"/>
<circle cx="499" cy="547.6" r="2.3"/>
<circle cx="502.5" cy="552.4" r="2.3"/>
<circle cx="505.6" cy="552.4" r="2.3"/>
<circle cx="508.2" cy="552.6" r="2.3"/>
<circle cx="511.3" cy="558.4" r="2.3"/>
<circle cx="515" cy="555.8" r="2.3"/>
<circle cx="518.7" cy="554.7" r="2.3"/>
<circle cx="521.8" cy="560.5" r="2.3"/>
<circle cx="525.5" cy="555.2" r="2.3"/>
<circle cx="528.1" cy="561.6" r="2.3"/>
<circle cx="532.1" cy="557.4" r="2.3"/>
<circle cx="535" cy="564.7" r="2.3"/>
<circle cx="541.3" cy="560.5" r="2.3"/>
<circle cx="545" cy="566.3" r="2.3"/>
<circle cx="548.1" cy="563.7" r="2.3"/>
<circle cx="551.8" cy="560" r="2.3"/>
<circle cx="554.9" cy="562.1" r="2.3"/>
<circle cx="558.1" cy="564.7" r="2.3"/>
<circle cx="561.8" cy="567.9" r="2.3"/>
<circle cx="564.9" cy="564.7" r="2.3"/>
<circle cx="568.1" cy="564.2" r="2.3"/>
<circle cx="571.2" cy="566.3" r="2.3"/>
<circle cx="574.4" cy="565" r="2.3"/>
<circle cx="577.6" cy="566.3" r="2.3"/>
<circle cx="581.2" cy="565.2" r="2.3"/>
<circle cx="584.4" cy="567.3" r="2.3"/>
<circle cx="587.7" cy="569" r="2.3"/>
<circle cx="591" cy="567.5" r="2.3"/>
<circle cx="594.3" cy="569.41" r="2.3"/>
<circle cx="597.6" cy="568.64" r="2.3"/>
<circle cx="600.9" cy="568.94" r="2.3"/>
<circle cx="604.2" cy="567.44" r="2.3"/>
<circle cx="607.5" cy="570.92" r="2.3"/>
<circle cx="610.8" cy="567.45" r="2.3"/>
<circle cx="614.1" cy="568.77" r="2.3"/>
<circle cx="617.4" cy="569.82" r="2.3"/>
<circle cx="620.7" cy="571.52" r="2.3"/>
<circle cx="624" cy="569.47" r="2.3"/>
<circle cx="627.3" cy="572.35" r="2.3"/>
<circle cx="630.6" cy="572.97" r="2.3"/>
<circle cx="633.9" cy="569.8" r="2.3"/>
<circle cx="637.2" cy="571.63" r="2.3"/>
<circle cx="640.5" cy="569.37" r="2.3"/>
<circle cx="643.8" cy="570.96" r="2.3"/>
<circle cx="647.1" cy="569.66" r="2.3"/>
<circle cx="650.4" cy="573.38" r="2.3"/>
<circle cx="653.7" cy="571.36" r="2.3"/>
<circle cx="657" cy="573.46" r="2.3"/>
<circle cx="660.3" cy="572.87" r="2.3"/>
<circle cx="663.6" cy="573.23" r="2.3"/>
<circle cx="666.9" cy="570.51" r="2.3"/>
<circle cx="670.2" cy="570.16" r="2.3"/>
<circle cx="673.5" cy="572.31" r="2.3"/>
<circle cx="676.8" cy="570.63" r="2.3"/>
<circle cx="680.1" cy="572.93" r="2.3"/>
<circle cx="683.4" cy="571.68" r="2.3"/>
<circle cx="686.7" cy="572.21" r="2.3"/>
<circle cx="690" cy="573.89" r="2.3"/>
<circle cx="693.3" cy="572.28" r="2.3"/>
<circle cx="696.6" cy="570.67" r="2.3"/>
<circle cx="699.9" cy="570.91" r="2.3"/>
<circle cx="703.2" cy="572.51" r="2.3"/>
<circle cx="706.5" cy="572.46" r="2.3"/>
<circle cx="709.8" cy="572.96" r="2.3"/>
<circle cx="713.1" cy="572.05" r="2.3"/>
<circle cx="716.4" cy="573.09" r="2.3"/>
<circle cx="719.7" cy="572.11" r="2.3"/>
<circle cx="723" cy="573.06" r="2.3"/>
<circle cx="726.3" cy="573.67" r="2.3"/>
<circle cx="729.6" cy="571.35" r="2.3"/>
<circle cx="732.9" cy="572.17" r="2.3"/>
<circle cx="736.2" cy="572.7" r="2.3"/>
<circle cx="739.5" cy="573.47" r="2.3"/>
<circle cx="742.8" cy="571.76" r="2.3"/>
<circle cx="746.1" cy="572.99" r="2.3"/>
<circle cx="749.4" cy="573.3" r="2.3"/>
</g>
<path d="M419.5,332.3 V582.2 M418.8,576.2 H749.9" stroke="#1a1a1a" stroke-width="1.4" fill="none"/>
<path d="M452.47,576.2 v3.2 M485.44,576.2 v6 M518.41,576.2 v3.2 M551.38,576.2 v6 M584.35,576.2 v3.2 M617.32,576.2 v6 M650.29,576.2 v3.2 M683.26,576.2 v6 M716.23,576.2 v3.2 M749.2,576.2 v6" stroke="#1a1a1a" stroke-width="1.3" fill="none"/>
<text x="419.5" y="595.3" class="tl" text-anchor="middle">0</text>
<text x="485.44" y="595.3" class="tl" text-anchor="middle">20</text>
<text x="551.38" y="595.3" class="tl" text-anchor="middle">40</text>
<text x="617.32" y="595.3" class="tl" text-anchor="middle">60</text>
<text x="683.26" y="595.3" class="tl" text-anchor="middle">80</text>
<text x="749.2" y="595.3" class="tl" text-anchor="middle">100</text>
<path d="M142.9,42.3 V190 M142.9,187 H344" stroke="#444" stroke-width="1.1" fill="none"/>
<path d="M165.15,187 v1.5 M187.4,187 v2.5 M209.65,187 v1.5 M231.9,187 v2.5 M254.15,187 v1.5 M276.4,187 v2.5 M298.65,187 v1.5 M320.9,187 v2.5 M343.15,187 v1.5" stroke="#555" stroke-width="1" fill="none"/>
<text x="142.9" y="198.5" class="it" text-anchor="middle">0</text>
<text x="187.4" y="198.5" class="it" text-anchor="middle">2</text>
<text x="231.9" y="198.5" class="it" text-anchor="middle">4</text>
<text x="276.4" y="198.5" class="it" text-anchor="middle">6</text>
<text x="320.9" y="198.5" class="it" text-anchor="middle">8</text>
<line x1="164.6" y1="187" x2="312.5" y2="42.7" stroke="#333" stroke-width="0.8"/>
<clipPath id="i1616"><rect x="142.9" y="32.3" width="206.1" height="154.7"/></clipPath>
<g fill="#111" clip-path="url(#i1616)">
<circle cx="300.4" cy="59" r="2.15"/>
<circle cx="271.1" cy="86.2" r="2.15"/>
<circle cx="253.9" cy="103.4" r="2.15"/>
<circle cx="242.4" cy="113.4" r="2.15"/>
<circle cx="233.6" cy="122.8" r="2.15"/>
<circle cx="226.7" cy="127" r="2.15"/>
<circle cx="221.4" cy="134.3" r="2.15"/>
<circle cx="216.8" cy="140.5" r="2.15"/>
<circle cx="213" cy="147.2" r="2.15"/>
<circle cx="209.7" cy="147.5" r="2.15"/>
<circle cx="207" cy="152.9" r="2.15"/>
<circle cx="204.7" cy="154.7" r="2.15"/>
<circle cx="202.1" cy="159.3" r="2.15"/>
<circle cx="199.72" cy="161.52" r="2.15"/>
<circle cx="199.28" cy="163" r="2.15"/>
<circle cx="198.46" cy="163.35" r="2.15"/>
<circle cx="197.2" cy="163.99" r="2.15"/>
<circle cx="197.54" cy="165.07" r="2.15"/>
<circle cx="196.53" cy="164.82" r="2.15"/>
<circle cx="195.96" cy="166.37" r="2.15"/>
<circle cx="194.33" cy="166.75" r="2.15"/>
<circle cx="193.43" cy="166.82" r="2.15"/>
<circle cx="193.06" cy="167.56" r="2.15"/>
<circle cx="192.87" cy="169.05" r="2.15"/>
<circle cx="191.66" cy="169.14" r="2.15"/>
<circle cx="190.67" cy="169.57" r="2.15"/>
<circle cx="190.68" cy="170.89" r="2.15"/>
<circle cx="189.19" cy="171.45" r="2.15"/>
<circle cx="189.11" cy="172.75" r="2.15"/>
<circle cx="189.1" cy="173.38" r="2.15"/>
<circle cx="188.51" cy="174.71" r="2.15"/>
<circle cx="188.62" cy="174.88" r="2.15"/>
<circle cx="187.07" cy="176.2" r="2.15"/>
<circle cx="186.21" cy="176.44" r="2.15"/>
<circle cx="185.57" cy="177.15" r="2.15"/>
<circle cx="184.9" cy="177.85" r="2.15"/>
<circle cx="185.07" cy="179.3" r="2.15"/>
<circle cx="184.37" cy="179.61" r="2.15"/>
<circle cx="183.46" cy="180.09" r="2.15"/>
<circle cx="182.23" cy="180.89" r="2.15"/>
<circle cx="182.09" cy="181.03" r="2.15"/>
<circle cx="180.42" cy="182.45" r="2.15"/>
<circle cx="179.94" cy="182.94" r="2.15"/>
<circle cx="179.64" cy="183.8" r="2.15"/>
<circle cx="178.38" cy="183.61" r="2.15"/>
<circle cx="177.96" cy="184.52" r="2.15"/>
<circle cx="176.87" cy="184.99" r="2.15"/>
<circle cx="175.95" cy="185.58" r="2.15"/>
<circle cx="174.64" cy="185.63" r="2.15"/>
<circle cx="174.39" cy="185.27" r="2.15"/>
<circle cx="172.99" cy="185.44" r="2.15"/>
<circle cx="171.82" cy="185.21" r="2.15"/>
<circle cx="170.29" cy="186.16" r="2.15"/>
<circle cx="169.82" cy="186.12" r="2.15"/>
<circle cx="169.17" cy="185.96" r="2.15"/>
<circle cx="167.73" cy="185.73" r="2.15"/>
<circle cx="167.24" cy="186.6" r="2.15"/>
<circle cx="166.17" cy="186.73" r="2.15"/>
<circle cx="165.07" cy="186.58" r="2.15"/>
</g>
<text transform="translate(134.4,190.6) rotate(-90)" class="ilserif" textLength="140.5" lengthAdjust="spacingAndGlyphs">Emission intensity  /arbitrary units</text>
<path d="M305.3,167.6 L306.7,166.5 L309.9,180.8 L313.9,141.5 H338.9" fill="none" stroke="#222" stroke-width="0.9" stroke-linejoin="miter"/>
<path d="M308.5,170.2 L309.9,180.8" stroke="#222" stroke-width="1.6"/>
<line x1="314.9" y1="161.2" x2="337.9" y2="161.2" stroke="#222" stroke-width="0.9"/>
<text x="321" y="155.8" class="fm"><tspan font-style="italic">t</tspan></text>
<text x="325.1" y="160.3" class="fs">F</text>
<text x="315.8" y="176.7" class="fm">Δ<tspan font-style="italic">t</tspan></text>
<text x="329.1" y="180.5" class="fs">R</text>
<path d="M141.8,374.5 V521.7 M141.8,518.7 H343" stroke="#444" stroke-width="1.1" fill="none"/>
<path d="M166.8,518.7 v1.5 M191.8,518.7 v2.5 M216.8,518.7 v1.5 M241.8,518.7 v2.5 M266.8,518.7 v1.5 M291.8,518.7 v2.5 M316.8,518.7 v1.5 M341.8,518.7 v2.5" stroke="#555" stroke-width="1" fill="none"/>
<text x="141.8" y="530.2" class="it" text-anchor="middle">0</text>
<text x="191.8" y="530.2" class="it" text-anchor="middle">2</text>
<text x="241.8" y="530.2" class="it" text-anchor="middle">4</text>
<text x="291.8" y="530.2" class="it" text-anchor="middle">6</text>
<text x="341.8" y="530.2" class="it" text-anchor="middle">8</text>
<line x1="165.9" y1="518.7" x2="328.5" y2="375.1" stroke="#333" stroke-width="0.8"/>
<clipPath id="i1936"><rect x="141.8" y="364.5" width="206.2" height="154.2"/></clipPath>
<g fill="#111" clip-path="url(#i1936)">
<circle cx="317.9" cy="387.8" r="2.15"/>
<circle cx="285.6" cy="413.8" r="2.15"/>
<circle cx="266.6" cy="434" r="2.15"/>
<circle cx="253" cy="440.7" r="2.15"/>
<circle cx="243.3" cy="451.6" r="2.15"/>
<circle cx="235.7" cy="457.3" r="2.15"/>
<circle cx="229.7" cy="465.8" r="2.15"/>
<circle cx="224.9" cy="467.9" r="2.15"/>
<circle cx="220.5" cy="474.1" r="2.15"/>
<circle cx="216.8" cy="480.9" r="2.15"/>
<circle cx="213.9" cy="484" r="2.15"/>
<circle cx="211.1" cy="488.6" r="2.15"/>
<circle cx="207.78" cy="492.53" r="2.15"/>
<circle cx="207.09" cy="492.64" r="2.15"/>
<circle cx="205.77" cy="493.8" r="2.15"/>
<circle cx="206.48" cy="492.69" r="2.15"/>
<circle cx="205.7" cy="493.35" r="2.15"/>
<circle cx="203.73" cy="494.84" r="2.15"/>
<circle cx="204.2" cy="495.97" r="2.15"/>
<circle cx="201.77" cy="496.06" r="2.15"/>
<circle cx="202.04" cy="496.68" r="2.15"/>
<circle cx="201.7" cy="496.78" r="2.15"/>
<circle cx="200.95" cy="497.2" r="2.15"/>
<circle cx="199.06" cy="498.02" r="2.15"/>
<circle cx="198.61" cy="499.68" r="2.15"/>
<circle cx="198.15" cy="500.59" r="2.15"/>
<circle cx="197.07" cy="501.09" r="2.15"/>
<circle cx="197.05" cy="501.02" r="2.15"/>
<circle cx="195.63" cy="502.84" r="2.15"/>
<circle cx="195.4" cy="503.45" r="2.15"/>
<circle cx="194.9" cy="503.88" r="2.15"/>
<circle cx="193.49" cy="503.86" r="2.15"/>
<circle cx="192.64" cy="505.38" r="2.15"/>
<circle cx="191.4" cy="505.85" r="2.15"/>
<circle cx="190.99" cy="505.42" r="2.15"/>
<circle cx="190.22" cy="505.86" r="2.15"/>
<circle cx="189.38" cy="505.78" r="2.15"/>
<circle cx="187.85" cy="507.57" r="2.15"/>
<circle cx="187.99" cy="506.84" r="2.15"/>
<circle cx="186.54" cy="507.72" r="2.15"/>
<circle cx="185.29" cy="508.85" r="2.15"/>
<circle cx="185.24" cy="508.7" r="2.15"/>
<circle cx="184.81" cy="510.76" r="2.15"/>
<circle cx="183.28" cy="510.52" r="2.15"/>
<circle cx="183.52" cy="511.62" r="2.15"/>
<circle cx="182.56" cy="512.26" r="2.15"/>
<circle cx="182.37" cy="512.96" r="2.15"/>
<circle cx="180.95" cy="513.12" r="2.15"/>
<circle cx="179.83" cy="514.37" r="2.15"/>
<circle cx="178.5" cy="515" r="2.15"/>
<circle cx="177.41" cy="514.91" r="2.15"/>
<circle cx="176.49" cy="515.57" r="2.15"/>
<circle cx="176.74" cy="516.47" r="2.15"/>
<circle cx="176.37" cy="516.09" r="2.15"/>
<circle cx="174.92" cy="517.25" r="2.15"/>
<circle cx="173.88" cy="516.45" r="2.15"/>
<circle cx="172.38" cy="516.69" r="2.15"/>
<circle cx="172.57" cy="517.19" r="2.15"/>
<circle cx="171.56" cy="518.13" r="2.15"/>
<circle cx="170.11" cy="516.7" r="2.15"/>
<circle cx="169.49" cy="518.46" r="2.15"/>
<circle cx="166.89" cy="518.07" r="2.15"/>
<circle cx="166.58" cy="518.09" r="2.15"/>
</g>
<text transform="translate(134.6,516.8) rotate(-90)" class="ilserif" textLength="135.4" lengthAdjust="spacingAndGlyphs">Emission intensity  /arbitrary units</text>
<path d="M303.1,499.7 L304.5,498.6 L307.7,512.9 L311.7,473.6 H336.7" fill="none" stroke="#222" stroke-width="0.9" stroke-linejoin="miter"/>
<path d="M306.3,502.3 L307.7,512.9" stroke="#222" stroke-width="1.6"/>
<line x1="312.7" y1="493.3" x2="335.7" y2="493.3" stroke="#222" stroke-width="0.9"/>
<text x="318.8" y="487.9" class="fm"><tspan font-style="italic">t</tspan></text>
<text x="322.9" y="492.4" class="fs">F</text>
<text x="313.6" y="508.8" class="fm">Δ<tspan font-style="italic">t</tspan></text>
<text x="326.9" y="512.6" class="fs">R</text>
<path d="M533.6,42.7 V189.6 M533.6,186.6 H732.8" stroke="#444" stroke-width="1.1" fill="none"/>
<path d="M558.5,186.6 v1.5 M583.4,186.6 v2.5 M608.3,186.6 v1.5 M633.2,186.6 v2.5 M658.1,186.6 v1.5 M683,186.6 v2.5 M707.9,186.6 v1.5 M732.8,186.6 v2.5" stroke="#555" stroke-width="1" fill="none"/>
<text x="533.6" y="198.1" class="it" text-anchor="middle">0</text>
<text x="583.4" y="198.1" class="it" text-anchor="middle">2</text>
<text x="633.2" y="198.1" class="it" text-anchor="middle">4</text>
<text x="683" y="198.1" class="it" text-anchor="middle">6</text>
<text x="732.8" y="198.1" class="it" text-anchor="middle">8</text>
<line x1="555.3" y1="186.6" x2="731.2" y2="42.7" stroke="#333" stroke-width="0.8"/>
<clipPath id="i5522"><rect x="533.6" y="32.7" width="204.2" height="153.9"/></clipPath>
<g fill="#111" clip-path="url(#i5522)">
<circle cx="708.9" cy="61.1" r="2.15"/>
<circle cx="676.5" cy="88.3" r="2.15"/>
<circle cx="657.5" cy="103.4" r="2.15"/>
<circle cx="644.2" cy="111.9" r="2.15"/>
<circle cx="634.2" cy="119.8" r="2.15"/>
<circle cx="627" cy="129.1" r="2.15"/>
<circle cx="620.9" cy="130" r="2.15"/>
<circle cx="615.8" cy="138.2" r="2.15"/>
<circle cx="611.7" cy="136.2" r="2.15"/>
<circle cx="607.9" cy="142.4" r="2.15"/>
<circle cx="604" cy="147.6" r="2.15"/>
<circle cx="602.1" cy="148.1" r="2.15"/>
<circle cx="599.86" cy="150.88" r="2.15"/>
<circle cx="599.13" cy="152.7" r="2.15"/>
<circle cx="598.61" cy="152.05" r="2.15"/>
<circle cx="597.06" cy="153.07" r="2.15"/>
<circle cx="596.31" cy="153.33" r="2.15"/>
<circle cx="594.49" cy="153.15" r="2.15"/>
<circle cx="593.93" cy="154.94" r="2.15"/>
<circle cx="593.96" cy="155.25" r="2.15"/>
<circle cx="593.13" cy="155.26" r="2.15"/>
<circle cx="592.03" cy="155.95" r="2.15"/>
<circle cx="593.33" cy="156.35" r="2.15"/>
<circle cx="591.52" cy="158.47" r="2.15"/>
<circle cx="590.4" cy="157.48" r="2.15"/>
<circle cx="591.05" cy="159.81" r="2.15"/>
<circle cx="589.26" cy="160.27" r="2.15"/>
<circle cx="590.32" cy="159.64" r="2.15"/>
<circle cx="589.4" cy="161.16" r="2.15"/>
<circle cx="588.31" cy="162.57" r="2.15"/>
<circle cx="586.61" cy="161.67" r="2.15"/>
<circle cx="587.3" cy="162.34" r="2.15"/>
<circle cx="585.69" cy="163.6" r="2.15"/>
<circle cx="586.39" cy="163.37" r="2.15"/>
<circle cx="584.93" cy="164.1" r="2.15"/>
<circle cx="584.22" cy="165.52" r="2.15"/>
<circle cx="584.46" cy="165.17" r="2.15"/>
<circle cx="583.74" cy="166.84" r="2.15"/>
<circle cx="582.06" cy="166.62" r="2.15"/>
<circle cx="581.65" cy="167.37" r="2.15"/>
<circle cx="582.38" cy="169.07" r="2.15"/>
<circle cx="580.37" cy="169.5" r="2.15"/>
<circle cx="580.38" cy="169.15" r="2.15"/>
<circle cx="580.32" cy="170.46" r="2.15"/>
<circle cx="578.26" cy="170.62" r="2.15"/>
<circle cx="578.23" cy="172.2" r="2.15"/>
<circle cx="578.49" cy="173.06" r="2.15"/>
<circle cx="576.8" cy="172.06" r="2.15"/>
<circle cx="576.9" cy="173.11" r="2.15"/>
<circle cx="574.8" cy="174.66" r="2.15"/>
<circle cx="573.91" cy="173.93" r="2.15"/>
<circle cx="574.11" cy="175.13" r="2.15"/>
<circle cx="574.12" cy="175.46" r="2.15"/>
<circle cx="571.75" cy="176.62" r="2.15"/>
<circle cx="571.18" cy="176" r="2.15"/>
<circle cx="570.88" cy="176.8" r="2.15"/>
<circle cx="571.17" cy="176.87" r="2.15"/>
<circle cx="570.16" cy="178.39" r="2.15"/>
<circle cx="567.92" cy="177.69" r="2.15"/>
<circle cx="568.86" cy="178.37" r="2.15"/>
<circle cx="566.37" cy="179.06" r="2.15"/>
<circle cx="566.78" cy="180.15" r="2.15"/>
<circle cx="566.15" cy="181.52" r="2.15"/>
<circle cx="564.59" cy="180.59" r="2.15"/>
<circle cx="565.01" cy="181.11" r="2.15"/>
<circle cx="563.95" cy="181.48" r="2.15"/>
<circle cx="562.22" cy="181.79" r="2.15"/>
<circle cx="562.55" cy="182.49" r="2.15"/>
<circle cx="560.54" cy="183.06" r="2.15"/>
<circle cx="560.09" cy="183.16" r="2.15"/>
<circle cx="559.23" cy="184.82" r="2.15"/>
<circle cx="559.41" cy="184.27" r="2.15"/>
<circle cx="558.27" cy="185.97" r="2.15"/>
</g>
<text transform="translate(525.4,191.6) rotate(-90)" class="ilsans" textLength="141.5" lengthAdjust="spacingAndGlyphs">Emission intensity  /arbitrary units</text>
<path d="M694.5,167.6 L695.9,166.5 L699.1,180.8 L703.1,141.5 H728.1" fill="none" stroke="#222" stroke-width="0.9" stroke-linejoin="miter"/>
<path d="M697.7,170.2 L699.1,180.8" stroke="#222" stroke-width="1.6"/>
<line x1="704.1" y1="161.2" x2="727.1" y2="161.2" stroke="#222" stroke-width="0.9"/>
<text x="710.2" y="155.8" class="fm"><tspan font-style="italic">t</tspan></text>
<text x="714.3" y="160.3" class="fs">F</text>
<text x="705" y="176.7" class="fm">Δ<tspan font-style="italic">t</tspan></text>
<text x="718.3" y="180.5" class="fs">R</text>
<path d="M533.3,375.9 V530.4 M533.3,527.4 H733" stroke="#444" stroke-width="1.1" fill="none"/>
<path d="M558.26,527.4 v1.5 M583.22,527.4 v2.5 M608.18,527.4 v1.5 M633.14,527.4 v2.5 M658.1,527.4 v1.5 M683.06,527.4 v2.5 M708.02,527.4 v1.5 M732.98,527.4 v2.5" stroke="#555" stroke-width="1" fill="none"/>
<text x="533.3" y="538.9" class="it" text-anchor="middle">0</text>
<text x="583.22" y="538.9" class="it" text-anchor="middle">2</text>
<text x="633.14" y="538.9" class="it" text-anchor="middle">4</text>
<text x="683.06" y="538.9" class="it" text-anchor="middle">6</text>
<text x="732.98" y="538.9" class="it" text-anchor="middle">8</text>
<line x1="555.9" y1="527.4" x2="733" y2="376.6" stroke="#333" stroke-width="0.8"/>
<clipPath id="i5860"><rect x="533.3" y="365.9" width="204.7" height="161.5"/></clipPath>
<g fill="#111" clip-path="url(#i5860)">
<circle cx="708.9" cy="401.4" r="2.15"/>
<circle cx="676.5" cy="427.1" r="2.15"/>
<circle cx="657.5" cy="442.2" r="2.15"/>
<circle cx="644.2" cy="453.1" r="2.15"/>
<circle cx="634.2" cy="459.1" r="2.15"/>
<circle cx="627" cy="463.4" r="2.15"/>
<circle cx="620.9" cy="468.8" r="2.15"/>
<circle cx="615.8" cy="470.3" r="2.15"/>
<circle cx="612.1" cy="479.3" r="2.15"/>
<circle cx="607.9" cy="485.7" r="2.15"/>
<circle cx="605" cy="484.3" r="2.15"/>
<circle cx="602.1" cy="484.1" r="2.15"/>
<circle cx="599.8" cy="490.2" r="2.15"/>
<circle cx="597.4" cy="493.3" r="2.15"/>
<circle cx="595.5" cy="497.1" r="2.15"/>
<circle cx="593.1" cy="493.3" r="2.15"/>
<circle cx="590.74" cy="497.52" r="2.15"/>
<circle cx="591.34" cy="495.87" r="2.15"/>
<circle cx="589.18" cy="499.36" r="2.15"/>
<circle cx="589.32" cy="498.09" r="2.15"/>
<circle cx="588.92" cy="498.44" r="2.15"/>
<circle cx="589.25" cy="499.45" r="2.15"/>
<circle cx="587.95" cy="499.06" r="2.15"/>
<circle cx="587.67" cy="500.09" r="2.15"/>
<circle cx="587.77" cy="501" r="2.15"/>
<circle cx="586.55" cy="502.59" r="2.15"/>
<circle cx="586.22" cy="501.05" r="2.15"/>
<circle cx="583.83" cy="502.56" r="2.15"/>
<circle cx="584.34" cy="502.41" r="2.15"/>
<circle cx="583.95" cy="504.26" r="2.15"/>
<circle cx="581.92" cy="503.9" r="2.15"/>
<circle cx="583.56" cy="503.82" r="2.15"/>
<circle cx="582.66" cy="504.41" r="2.15"/>
<circle cx="582.14" cy="507.09" r="2.15"/>
<circle cx="580.65" cy="508.44" r="2.15"/>
<circle cx="580.22" cy="506.6" r="2.15"/>
<circle cx="579.35" cy="508.74" r="2.15"/>
<circle cx="578.81" cy="507.32" r="2.15"/>
<circle cx="578.12" cy="510.73" r="2.15"/>
<circle cx="577.47" cy="509.68" r="2.15"/>
<circle cx="578.26" cy="511.71" r="2.15"/>
<circle cx="576.05" cy="510.12" r="2.15"/>
<circle cx="575.39" cy="510.7" r="2.15"/>
<circle cx="577.44" cy="511.41" r="2.15"/>
<circle cx="574.25" cy="512.77" r="2.15"/>
<circle cx="574.76" cy="514.07" r="2.15"/>
<circle cx="574.71" cy="514.32" r="2.15"/>
<circle cx="572.75" cy="514.64" r="2.15"/>
<circle cx="572.1" cy="514.06" r="2.15"/>
<circle cx="572.53" cy="515.47" r="2.15"/>
<circle cx="572.83" cy="514.98" r="2.15"/>
<circle cx="570.87" cy="515.78" r="2.15"/>
<circle cx="570.84" cy="517.38" r="2.15"/>
<circle cx="570.52" cy="516.64" r="2.15"/>
<circle cx="569.14" cy="517.76" r="2.15"/>
<circle cx="567.42" cy="518.42" r="2.15"/>
<circle cx="567.14" cy="517.18" r="2.15"/>
<circle cx="568.7" cy="517.75" r="2.15"/>
<circle cx="567.34" cy="519.5" r="2.15"/>
<circle cx="564.78" cy="520.03" r="2.15"/>
<circle cx="565.16" cy="520.57" r="2.15"/>
<circle cx="566.01" cy="522.38" r="2.15"/>
<circle cx="564.54" cy="520.92" r="2.15"/>
<circle cx="563.2" cy="522.62" r="2.15"/>
<circle cx="563.09" cy="521.01" r="2.15"/>
<circle cx="562.48" cy="524.05" r="2.15"/>
<circle cx="560.56" cy="522.75" r="2.15"/>
<circle cx="559.42" cy="524.47" r="2.15"/>
<circle cx="559.36" cy="522.91" r="2.15"/>
<circle cx="558.29" cy="523.66" r="2.15"/>
<circle cx="557.13" cy="525.47" r="2.15"/>
<circle cx="558.98" cy="526.41" r="2.15"/>
</g>
<text transform="translate(524.8,532.5) rotate(-90)" class="ilserif" textLength="149.8" lengthAdjust="spacingAndGlyphs">Emission intensity  /arbitrary units</text>
<path d="M694.5,507.8 L695.9,506.7 L699.1,521 L703.1,481.7 H728.1" fill="none" stroke="#222" stroke-width="0.9" stroke-linejoin="miter"/>
<path d="M697.7,510.4 L699.1,521" stroke="#222" stroke-width="1.6"/>
<line x1="704.1" y1="501.4" x2="727.1" y2="501.4" stroke="#222" stroke-width="0.9"/>
<text x="710.2" y="496" class="fm"><tspan font-style="italic">t</tspan></text>
<text x="714.3" y="500.5" class="fs">F</text>
<text x="705" y="516.9" class="fm">Δ<tspan font-style="italic">t</tspan></text>
<text x="718.3" y="520.7" class="fs">R</text>
<text transform="translate(14.2,265.2) rotate(-90)" class="yl" textLength="263.2" lengthAdjust="spacingAndGlyphs">Emission intensity  /arbitrary units</text>
<text transform="translate(14.2,597.4) rotate(-90)" class="yl" textLength="263.4" lengthAdjust="spacingAndGlyphs">Emission intensity  /arbitrary units</text>
<text x="164" y="290" class="xl" style="font-size:16.6px">Δ</text>
<text x="174.5" y="290" class="xl" font-style="italic">t</text>
<text x="179.6" y="297.9" class="xs">R</text>
<text x="196.6" y="290" class="xl">/ms</text>
<text x="549.3" y="286.7" class="xl" style="font-size:16.6px">Δ</text>
<text x="559.8" y="286.7" class="xl" font-style="italic">t</text>
<text x="564.9" y="294.6" class="xs">R</text>
<text x="581.9" y="286.7" class="xl">/ms</text>
<text x="164" y="621.9" class="xl" style="font-size:16.6px">Δ</text>
<text x="174.5" y="621.9" class="xl" font-style="italic">t</text>
<text x="179.6" y="629.8" class="xs">R</text>
<text x="196.6" y="621.9" class="xl">/ms</text>
<text x="555.6" y="621.9" class="xl" style="font-size:16.6px">Δ</text>
<text x="566.1" y="621.9" class="xl" font-style="italic">t</text>
<text x="571.2" y="629.8" class="xs">R</text>
<text x="588.2" y="621.9" class="xl">/ms</text>
<text x="51.7" y="18.9" class="sq">Sequence</text>
<path d="M136,14.3 h9.8 M141.1,10 v8.7 M146.3,17.7 L150.8,6.8 M151.8,14.3 h8.2" stroke="#222" stroke-width="1.2" fill="none"/>
<text x="52.6" y="350.6" class="sq">Sequence</text>
<path d="M137.1,346 h8.7 M146.6,350.6 L150.8,339 M152.1,346 h8.6 M156.4,341.9 v8.2" stroke="#222" stroke-width="1.3" fill="none"/>
</svg></body></html>
